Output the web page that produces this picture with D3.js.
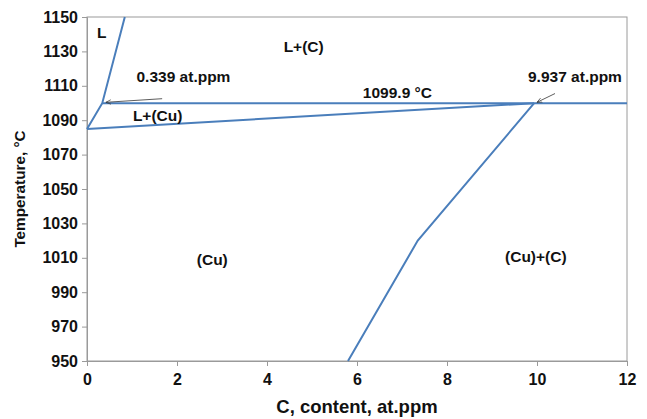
<!DOCTYPE html>
<html>
<head>
<meta charset="utf-8">
<script src="https://cdn.jsdelivr.net/npm/d3@7"></script>
<style>
  body { margin: 0; background: #fff; }
  text { font-family: "Liberation Sans", Arial, sans-serif; font-weight: bold; fill: #111; }
</style>
</head>
<body>
<div class="root"></div>
<script>
const width = 647;
const height = 419;
const margin = { top: 17, right: 20, bottom: 58, left: 87 };

// phase boundary lines: [C at.ppm, T °C]
const liquidus = [[0, 1084.9], [0.339, 1099.9], [0.84, 1150]];
const solidus = [[0, 1084.9], [9.937, 1099.9]];
const eutectic = [[0.339, 1099.9], [12, 1099.9]];
const solvus = [[9.937, 1099.9], [7.35, 1020], [5.8, 950]];
const lines = [liquidus, solidus, eutectic, solvus];

const xTicks = [0, 2, 4, 6, 8, 10, 12];
const yTicks = [950, 970, 990, 1010, 1030, 1050, 1070, 1090, 1110, 1130, 1150];

// region labels: [text, C, T]
const labels = [
  ["L", 0.22, 1138],
  ["L+(C)", 4.37, 1129.5],
  ["0.339 at.ppm", 1.1, 1112],
  ["1099.9 °C", 6.13, 1102.9],
  ["9.937 at.ppm", 9.8, 1112.2],
  ["L+(Cu)", 1.02, 1089.5],
  ["(Cu)", 2.44, 1006],
  ["(Cu)+(C)", 9.29, 1007.8]
];
// arrows: from [C, T] to [C, T]
const arrows = [
  [[1.67, 1102.5], [0.42, 1100.4]],
  [[10.4, 1105.5], [10.0, 1100.4]]
];

const x = d3.scaleLinear().domain([0, 12]).range([margin.left, width - margin.right]);
const y = d3.scaleLinear().domain([950, 1150]).range([height - margin.bottom, margin.top]);

const svg = d3.select(".root").append("svg")
  .attr("width", width)
  .attr("height", height);

svg.append("defs").append("marker")
  .attr("id", "arrow")
  .attr("viewBox", "0 0 10 10")
  .attr("refX", 9).attr("refY", 5)
  .attr("markerWidth", 7).attr("markerHeight", 7)
  .attr("orient", "auto")
  .append("path")
  .attr("d", "M0,1 L9,5 L0,9")
  .attr("fill", "none")
  .attr("stroke", "#333")
  .attr("stroke-width", 1.2);

// plot frame
svg.append("rect")
  .attr("x", x(0)).attr("y", y(1150))
  .attr("width", x(12) - x(0)).attr("height", y(950) - y(1150))
  .attr("fill", "none")
  .attr("stroke", "#9a9a9a")
  .attr("stroke-width", 1);

const xAxis = svg.append("g")
  .attr("transform", `translate(0,${y(950)})`)
  .call(d3.axisBottom(x).tickValues(xTicks).tickFormat(d3.format("d")).tickSize(5).tickPadding(8));
const yAxis = svg.append("g")
  .attr("transform", `translate(${x(0)},0)`)
  .call(d3.axisLeft(y).tickValues(yTicks).tickFormat(d3.format("d")).tickSize(5).tickPadding(4));

[xAxis, yAxis].forEach((g) => {
  g.select(".domain").attr("stroke", "#9a9a9a");
  g.selectAll(".tick line").attr("stroke", "#9a9a9a");
  g.selectAll("text")
    .attr("fill", "#111")
    .style("font-family", "'Liberation Sans', Arial, sans-serif")
    .style("font-weight", "bold")
    .style("font-size", "16px");
});

const line = d3.line().x((d) => x(d[0])).y((d) => y(d[1]));
svg.append("g").selectAll("path")
  .data(lines)
  .join("path")
  .attr("d", line)
  .attr("fill", "none")
  .attr("stroke", "#4a7ebb")
  .attr("stroke-width", 2);

svg.append("g").selectAll("line")
  .data(arrows)
  .join("line")
  .attr("x1", (d) => x(d[0][0])).attr("y1", (d) => y(d[0][1]))
  .attr("x2", (d) => x(d[1][0])).attr("y2", (d) => y(d[1][1]))
  .attr("stroke", "#333")
  .attr("stroke-width", 0.8)
  .attr("marker-end", "url(#arrow)");

svg.append("g").selectAll("text")
  .data(labels)
  .join("text")
  .attr("x", (d) => x(d[1]))
  .attr("y", (d) => y(d[2]))
  .attr("font-size", 15.5)
  .text((d) => d[0]);

svg.append("text")
  .attr("x", (x(0) + x(12)) / 2)
  .attr("y", 413)
  .attr("text-anchor", "middle")
  .attr("font-size", 18.5)
  .text("C, content, at.ppm");

svg.append("text")
  .attr("transform", `translate(25,${(y(950) + y(1150)) / 2}) rotate(-90)`)
  .attr("text-anchor", "middle")
  .attr("font-size", 15.3)
  .text("Temperature, °C");
</script>
</body>
</html>
